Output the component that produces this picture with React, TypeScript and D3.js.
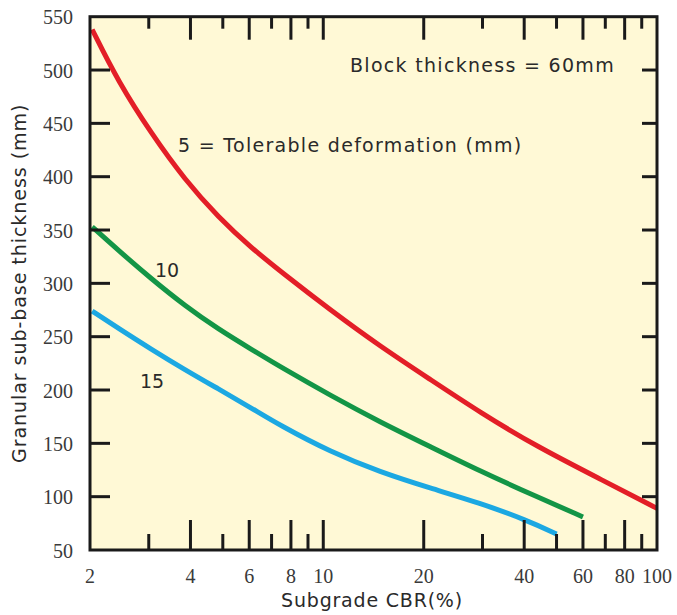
import React from "react";
import * as d3 from "d3";

const xTickLabels = [2, 4, 6, 8, 10, 20, 40, 60, 80, 100];
const xLongTicks = [4, 6, 8, 10, 20, 40, 60, 80];
const xShortTicks = [3, 5, 7, 9, 30, 50, 70, 90];
const yTickLabels = [50, 100, 150, 200, 250, 300, 350, 400, 450, 500, 550];
const yInnerTicks = [100, 150, 200, 250, 300, 350, 400, 450, 500];

const cbr5 = [2.03, 2.43, 3.06, 3.85, 4.85, 6.1, 7.6, 10.5, 14.8, 20.9, 29.5, 43.6, 69.1, 100];
const def5 = [538, 489, 440, 397, 362, 333, 309, 275, 241, 210, 179, 147, 115, 89];
const cbr10 = [2.03, 2.43, 3.06, 3.85, 4.85, 6.1, 7.6, 10.5, 14.8, 20.9, 29.5, 43.6, 60];
const def10 = [353, 331, 304, 279, 257, 238, 220, 195, 170, 147, 124, 100, 81];
const cbr15 = [2.03, 2.43, 3.06, 3.85, 4.85, 6.1, 7.4, 10.5, 14.8, 20.9, 29.5, 40.7, 50];
const def15 = [274, 258, 238, 219, 201, 183, 167, 142, 123, 108, 94, 78, 65];

const series = [
  { name: "5", xs: cbr5, ys: def5, color: "#E31E27" },
  { name: "10", xs: cbr10, ys: def10, color: "#139546" },
  { name: "15", xs: cbr15, ys: def15, color: "#1CA8E2" },
];

const L = 90, R = 657, T = 16.7, B = 550;
const sans = "'DejaVu Sans', sans-serif";
const serif = "'Liberation Serif', 'Times New Roman', serif";

export default function App() {
  const x = d3.scaleLog().domain([2, 100]).range([L, R]);
  const y = d3.scaleLinear().domain([50, 550]).range([B, T]);
  const line = d3
    .line<[number, number]>()
    .x((d) => x(d[0]))
    .y((d) => y(d[1]))
    .curve(d3.curveBasis);

  return (
    <svg width={677} height={615} style={{ position: "absolute", left: 0, top: 0 }}>
      <rect x={0} y={0} width={677} height={615} fill="#ffffff" />
      <rect x={L} y={T} width={R - L} height={B - T} fill="#FFF9D6" />
      {series.map((s) => (
        <path
          key={s.name}
          d={line(s.xs.map((v, i) => [v, s.ys[i]]) as [number, number][]) || ""}
          fill="none"
          stroke={s.color}
          strokeWidth={5}
          strokeLinecap="butt"
        />
      ))}
      <g stroke="#1a1a1a" strokeWidth={3}>
        {xLongTicks.map((t) => (
          <g key={"l" + t}>
            <line x1={x(t)} x2={x(t)} y1={B} y2={B - 30} />
            <line x1={x(t)} x2={x(t)} y1={T} y2={T + 23} />
          </g>
        ))}
        {xShortTicks.map((t) => (
          <g key={"s" + t}>
            <line x1={x(t)} x2={x(t)} y1={B} y2={B - 16} />
            <line x1={x(t)} x2={x(t)} y1={T} y2={T + 12} />
          </g>
        ))}
        {yInnerTicks.map((t) => (
          <g key={"y" + t}>
            <line x1={L} x2={L + 20} y1={y(t)} y2={y(t)} />
            <line x1={R} x2={R - 15} y1={y(t)} y2={y(t)} />
          </g>
        ))}
      </g>
      <rect x={L} y={T} width={R - L} height={B - T} fill="none" stroke="#1a1a1a" strokeWidth={3} />
      <g fontFamily={serif} fontSize={20} fill="#3a3a3a">
        {yTickLabels.map((t) => (
          <text key={t} x={73} y={y(t) + 3} textAnchor="end" dominantBaseline="middle">
            {t}
          </text>
        ))}
        {xTickLabels.map((t) => (
          <text key={t} x={x(t)} y={583} textAnchor="middle">
            {t}
          </text>
        ))}
      </g>
      <g fontFamily={sans} fill="#2a2a2a" fontSize={19} letterSpacing={1.3}>
        <text x={350} y={72}>Block thickness = 60mm</text>
        <text x={178} y={152}>5 = Tolerable deformation (mm)</text>
        <text x={155} y={277} letterSpacing={0}>10</text>
        <text x={140} y={388} letterSpacing={0}>15</text>
      </g>
      <text x={372} y={607} textAnchor="middle" fontFamily={sans} fontSize={19} letterSpacing={0.8} fill="#2a2a2a">
        Subgrade CBR(%)
      </text>
      <text
        transform={`translate(26, ${(T + B) / 2}) rotate(-90)`}
        textAnchor="middle"
        fontFamily={sans}
        fontSize={19}
        letterSpacing={0.95}
        fill="#2a2a2a"
      >
        Granular sub-base thickness (mm)
      </text>
    </svg>
  );
}
